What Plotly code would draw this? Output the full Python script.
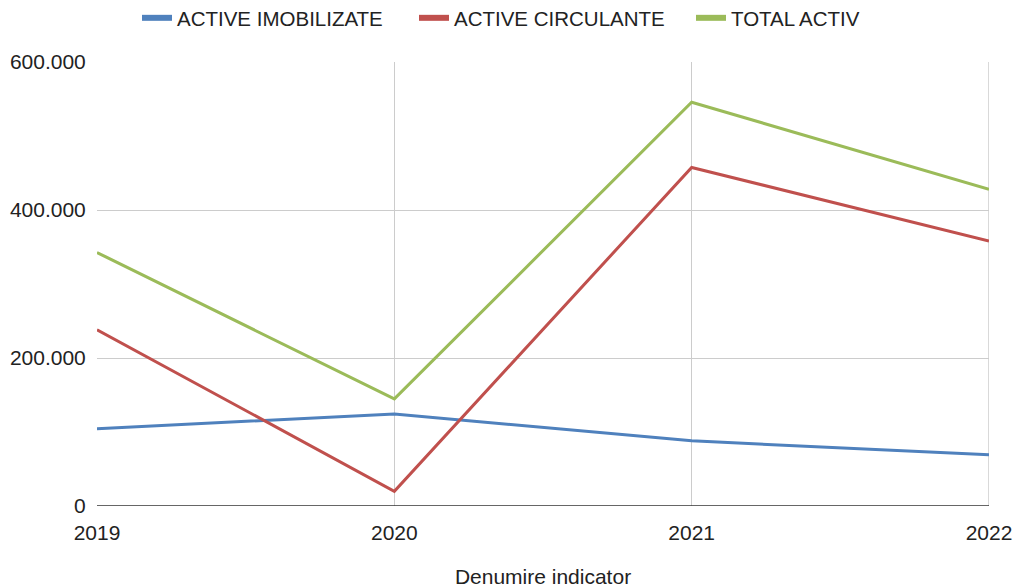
import plotly.graph_objects as go

years = [2019, 2020, 2021, 2022]
active_imobilizate = [104400, 124300, 88100, 69100]
active_circulante = [238200, 19900, 457500, 358000]
total_activ = [342600, 144700, 545600, 428000]
y_ticks = [0, 200000, 400000, 600000]

series = [
    ("ACTIVE IMOBILIZATE", active_imobilizate, "#4f81bd"),
    ("ACTIVE CIRCULANTE", active_circulante, "#c0504d"),
    ("TOTAL ACTIV", total_activ, "#9bbb59"),
]

fig = go.Figure()
for name, vals, color in series:
    fig.add_trace(go.Scatter(x=years, y=vals, name=name, mode="lines",
                             line=dict(color=color, width=3), showlegend=False,
                             legendgroup=name))
# legend entries (thicker swatches, no data)
for name, vals, color in series:
    fig.add_trace(go.Scatter(x=[None], y=[None], name=name, mode="lines",
                             line=dict(color=color, width=6), legendgroup=name))

fig.update_layout(
    width=1015, height=588,
    margin=dict(l=97, r=26, t=62, b=82, autoexpand=False),
    paper_bgcolor="white", plot_bgcolor="white",
    font=dict(family="Arial, 'Liberation Sans', sans-serif", size=21, color="#222222"),
    separators=",.",
    legend=dict(orientation="h", x=0.5 + 45 / 1015, xanchor="center", xref="container",
                y=1 - 18 / 588, yanchor="middle",
                yref="container", font=dict(size=20.5), itemwidth=30,
                entrywidth=232, tracegroupgap=0),
    xaxis=dict(range=[2019, 2022], tickvals=years, ticktext=[str(y) for y in years],
               showgrid=True, gridcolor="#cccccc", gridwidth=1, zeroline=False,
               showline=False, ticks="outside", ticklen=8, tickcolor="rgba(0,0,0,0)",
               tickfont=dict(size=21),
               title=dict(text="Denumire indicator", font=dict(size=21), standoff=28)),
    yaxis=dict(range=[0, 600000], tickvals=y_ticks, tickformat=",d",
               showgrid=True, gridcolor="#cccccc", gridwidth=1,
               zeroline=False, showline=False, ticks="outside", ticklen=6,
               tickcolor="rgba(0,0,0,0)", tickfont=dict(size=21)),
    shapes=[dict(type="line", xref="paper", yref="y", x0=0, x1=1, y0=0, y1=0,
                 line=dict(color="#333333", width=1.5)),
            dict(type="line", xref="x", yref="paper", x0=2022, x1=2022, y0=0, y1=1,
                 line=dict(color="#cccccc", width=1.5), layer="below")],
)

fig.write_html("out.html", config={"displayModeBar": False},
               post_script="document.body.style.margin='0';")
